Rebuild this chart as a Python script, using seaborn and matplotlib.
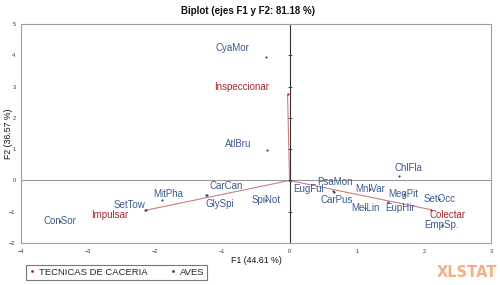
import numpy as np
import pandas as pd
import matplotlib
matplotlib.use("Agg")
import matplotlib.pyplot as plt
import seaborn as sns
from matplotlib.lines import Line2D

# ---- data ----
birds = ["CyaMor", "AtlBru", "MitPha", "SetTow", "ConSor", "CarCan", "GlySpi", "SpiNot",
         "EugFul", "PsaMon", "CarPus", "MnlVar", "MelLin", "EupHir", "MegPit", "SetOcc",
         "ChlFla", "EmpSp."]
bird_f1 = [-0.35, -0.33, -1.90, -2.15, -3.42, -1.23, -1.24, -0.35,
           0.01, 0.65, 0.66, 1.20, 1.13, 1.47, 1.70, 2.23, 1.63, 2.27]
bird_f2 = [3.94, 0.98, -0.63, -0.94, -1.30, -0.45, -0.46, -0.61,
           -0.02, -0.35, -0.36, -0.28, -0.87, -0.69, -0.42, -0.58, 0.15, -1.41]

techniques = ["Inspeccionar", "Impulsar", "Colectar"]
tech_f1 = [-0.03, -2.14, 2.10]
tech_f2 = [2.75, -0.95, -0.93]

# label offsets in pixels (style)
bird_off = {"CyaMor": (-34, 9), "AtlBru": (-29, 6), "MitPha": (6, 6), "SetTow": (-16, 4.5),
            "ConSor": (0, 0), "CarCan": (19, 8.6), "GlySpi": (13, -8.7), "SpiNot": (0, 0),
            "EugFul": (18, -7.5), "PsaMon": (2, 9), "CarPus": (2.5, -8), "MnlVar": (0, 0),
            "MelLin": (0, 0), "EupHir": (11.5, -5.6), "MegPit": (0, 0), "SetOcc": (0, 0),
            "ChlFla": (9, 8), "EmpSp.": (0, 0)}
tech_off = {"Inspeccionar": (-46, 7), "Impulsar": (-36, -5), "Colectar": (17, -5)}

xticks = [-4, -3, -2, -1, 0, 1, 2, 3]
yticks = [-2, -1, 0, 1, 2, 3, 4, 5]

sns.set_theme(style="white")
plt.rcParams["font.family"] = ["Liberation Sans", "DejaVu Sans"]

bird_col = "#3b5a8e"
dot_col = "#2f4470"
tech_col = "#a3282c"
line_col = "#c98080"

fig = plt.figure(figsize=(5, 2.85), dpi=100)
ax = fig.add_axes([0.042, 0.147, 0.940, 0.769])

df_b = pd.DataFrame({"F1": bird_f1, "F2": bird_f2, "name": birds})
df_t = pd.DataFrame({"F1": tech_f1, "F2": tech_f2, "name": techniques})

ax.axhline(0, color="#9a9a9a", lw=0.8, zorder=1)
ax.axvline(0, color="#333333", lw=0.8, zorder=1)

for _, r in df_t.iterrows():
    ax.plot([0, r.F1], [0, r.F2], color=line_col, lw=0.8, zorder=2)

sns.scatterplot(data=df_b, x="F1", y="F2", ax=ax, color=dot_col, s=2.5, linewidth=0, zorder=3, legend=False)
sns.scatterplot(data=df_t, x="F1", y="F2", ax=ax, color=tech_col, s=2.5, linewidth=0, zorder=3, legend=False)

for _, r in df_b.iterrows():
    dx, dy = bird_off[r["name"]]
    ax.annotate(r["name"], (r.F1, r.F2), xytext=(dx, dy), textcoords="offset pixels",
                ha="center", va="center", fontsize=7.0, color=bird_col, zorder=4)
for _, r in df_t.iterrows():
    dx, dy = tech_off[r["name"]]
    ax.annotate(r["name"], (r.F1, r.F2), xytext=(dx, dy), textcoords="offset pixels",
                ha="center", va="center", fontsize=7.0, color=tech_col, zorder=4)

ax.set_xlim(-4, 3)
ax.set_ylim(-2, 5)
ax.set_xticks(xticks)
ax.set_yticks(yticks)
ax.tick_params(axis="both", labelsize=4, length=0, pad=4, colors="#333333")
for s in ax.spines.values():
    s.set_color("#a0a0a0")
    s.set_linewidth(0.8)

# small tick marks along the x=0 axis line
ax.scatter([0] * len(yticks), yticks, marker="_", s=6, color="#333333", linewidths=0.6, zorder=2, clip_on=False)

ax.set_xlabel("F1 (44.61 %)", fontsize=6.3, color="#111111", labelpad=2)
ax.set_ylabel("F2 (36.57 %)", fontsize=6.3, color="#111111")
ax.yaxis.set_label_coords(-0.017, 0.5)
ax.set_title("Biplot (ejes F1 y F2: 81.18 %)", fontsize=7, fontweight="bold", color="#111111",
             pad=7, x=0.483)

handles = [Line2D([], [], marker=".", color=tech_col, ls="none", markersize=2),
           Line2D([], [], marker=".", color=dot_col, ls="none", markersize=2)]
leg = fig.legend(handles, ["TECNICAS DE CACERIA", "AVES"], loc="center left",
                 bbox_to_anchor=(0.042, 0.045), ncol=2, fontsize=6.8, frameon=True,
                 handletextpad=0.3, columnspacing=2.3, handlelength=0.8,
                 borderpad=0.3, fancybox=False, edgecolor="#555555")
leg.get_frame().set_linewidth(0.8)

fig.text(0.994, 0.045, "XLSTAT", ha="right", va="center", fontsize=10.5, fontweight="bold",
         color="#f4b084", family="DejaVu Sans")

fig.savefig("out.png", dpi=100)
